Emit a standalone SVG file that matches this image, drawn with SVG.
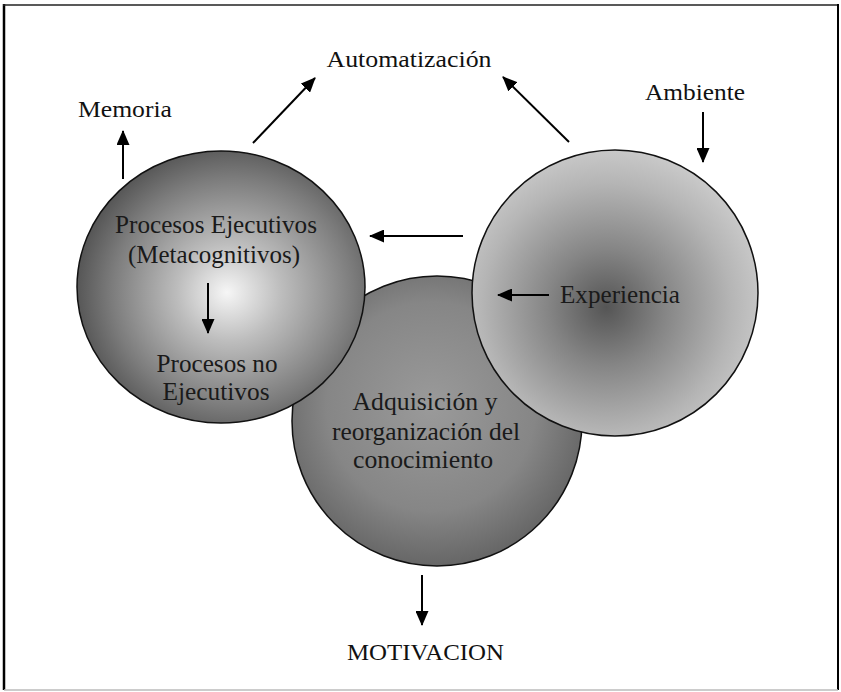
<svg xmlns="http://www.w3.org/2000/svg" width="841" height="692" viewBox="0 0 841 692">
  <style>
    .lbl { font-family: "Liberation Serif", "DejaVu Serif", serif; fill: #111; }
    .in { font-family: "Liberation Serif", "DejaVu Serif", serif; fill: #1a1a1a; }
    .conn { stroke: #000; stroke-width: 2; fill: none; }
    .circ { stroke: #111; stroke-width: 1.5; }
  </style>
  <defs>
    <marker id="ah" markerUnits="userSpaceOnUse" markerWidth="15" markerHeight="13" refX="14" refY="6.5" orient="auto">
      <path d="M0,0 L15,6.5 L0,13 z" fill="#000"/>
    </marker>
    <radialGradient id="gLeft" cx="0.55" cy="0.52" r="0.6" fx="0.52" fy="0.52">
      <stop offset="0" stop-color="#f6f6f6"/>
      <stop offset="0.3" stop-color="#bdbdbd"/>
      <stop offset="0.7" stop-color="#7c7c7c"/>
      <stop offset="1" stop-color="#474747"/>
    </radialGradient>
    <radialGradient id="gMid" cx="0.48" cy="0.45" r="0.6">
      <stop offset="0" stop-color="#9a9a9a"/>
      <stop offset="0.6" stop-color="#868686"/>
      <stop offset="1" stop-color="#5e5e5e"/>
    </radialGradient>
    <radialGradient id="gRight" cx="0.47" cy="0.55" r="0.58">
      <stop offset="0" stop-color="#555"/>
      <stop offset="0.35" stop-color="#858585"/>
      <stop offset="0.75" stop-color="#b5b5b5"/>
      <stop offset="1" stop-color="#cdcdcd"/>
    </radialGradient>
  </defs>
  <rect x="0" y="0" width="841" height="692" fill="#fff"/>

  <g id="frame">
    <line x1="4" y1="4" x2="4" y2="690" stroke="#000" stroke-width="2.5"/>
    <line x1="3" y1="5" x2="838" y2="5" stroke="#222" stroke-width="1.5"/>
    <line x1="838" y1="4" x2="838" y2="690" stroke="#000" stroke-width="2"/>
    <line x1="4" y1="690" x2="838" y2="690" stroke="#bbb" stroke-width="1.5"/>
  </g>

  <g id="node-adquisicion">
    <circle class="circ" cx="437" cy="421" r="145" fill="url(#gMid)"/>
    <text class="in" font-size="25" x="425" y="410" text-anchor="middle" textLength="145" lengthAdjust="spacingAndGlyphs">Adquisición y</text>
    <text class="in" font-size="25" x="426" y="440" text-anchor="middle" textLength="188" lengthAdjust="spacingAndGlyphs">reorganización del</text>
    <text class="in" font-size="25" x="423" y="468" text-anchor="middle" textLength="140" lengthAdjust="spacingAndGlyphs">conocimiento</text>
  </g>

  <g id="node-procesos">
    <ellipse class="circ" cx="221" cy="287" rx="144" ry="136" fill="url(#gLeft)"/>
    <text class="in" font-size="25" x="216" y="233" text-anchor="middle" textLength="202" lengthAdjust="spacingAndGlyphs">Procesos Ejecutivos</text>
    <text class="in" font-size="25" x="214" y="263" text-anchor="middle" textLength="172" lengthAdjust="spacingAndGlyphs">(Metacognitivos)</text>
    <text class="in" font-size="25" x="217" y="372" text-anchor="middle" textLength="121" lengthAdjust="spacingAndGlyphs">Procesos no</text>
    <text class="in" font-size="25" x="216" y="400" text-anchor="middle" textLength="107" lengthAdjust="spacingAndGlyphs">Ejecutivos</text>
  </g>

  <g id="node-experiencia">
    <circle class="circ" cx="615" cy="293" r="143" fill="url(#gRight)"/>
    <text class="in" font-size="25" x="560" y="303" textLength="120" lengthAdjust="spacingAndGlyphs">Experiencia</text>
  </g>

  <g id="node-automatizacion">
    <text class="lbl" font-size="24" x="409" y="67" text-anchor="middle" textLength="165" lengthAdjust="spacingAndGlyphs">Automatización</text>
  </g>
  <g id="node-memoria">
    <text class="lbl" font-size="24" x="78" y="117" textLength="94" lengthAdjust="spacingAndGlyphs">Memoria</text>
  </g>
  <g id="node-ambiente">
    <text class="lbl" font-size="24" x="645" y="100" textLength="100" lengthAdjust="spacingAndGlyphs">Ambiente</text>
  </g>
  <g id="node-motivacion">
    <text class="lbl" font-size="24" x="347" y="660" textLength="157" lengthAdjust="spacingAndGlyphs">MOTIVACION</text>
  </g>

  <g id="connectors">
    <line class="conn" x1="123" y1="179" x2="123" y2="131" marker-end="url(#ah)"/>
    <line class="conn" x1="253" y1="143" x2="315" y2="78" marker-end="url(#ah)"/>
    <line class="conn" x1="569" y1="142" x2="503" y2="77" marker-end="url(#ah)"/>
    <line class="conn" x1="703" y1="112" x2="703" y2="162" marker-end="url(#ah)"/>
    <line class="conn" x1="463" y1="236" x2="370" y2="236" marker-end="url(#ah)"/>
    <line class="conn" x1="549" y1="295" x2="498" y2="295" marker-end="url(#ah)"/>
    <line class="conn" x1="208" y1="283" x2="208" y2="333" marker-end="url(#ah)"/>
    <line class="conn" x1="422" y1="575" x2="422" y2="625" marker-end="url(#ah)"/>
  </g>
</svg>
